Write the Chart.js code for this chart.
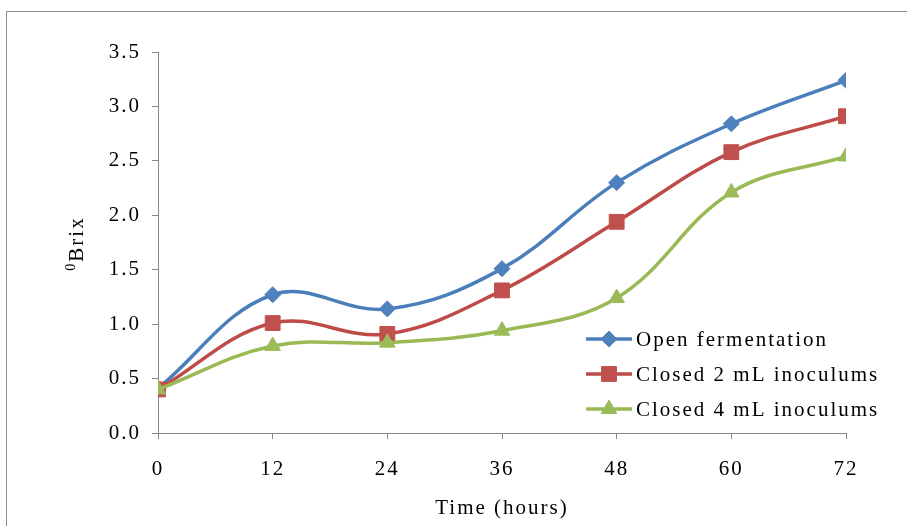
<!DOCTYPE html>
<html>
<head>
<meta charset="utf-8">
<script src="https://cdn.jsdelivr.net/npm/chart.js@4/dist/chart.umd.min.js"></script>
<style>
  html, body { margin: 0; padding: 0; background: #fff; }
  #wrap { width: 907px; height: 526px; position: relative; }
</style>
</head>
<body>
<div id="wrap"><canvas id="c" width="907" height="526"></canvas></div>
<script>
// Sampling times (hours) and soluble solids (°Brix) for each fermentation set-up
const hours = [0, 12, 24, 36, 48, 60, 72];
const openFermentation = [0.41, 1.27, 1.14, 1.51, 2.30, 2.84, 3.24];
const closed2mL = [0.40, 1.01, 0.91, 1.31, 1.94, 2.58, 2.91];
const closed4mL = [0.40, 0.80, 0.83, 0.94, 1.24, 2.21, 2.54];
const seriesNames = ['Open fermentation', 'Closed 2 mL inoculums', 'Closed 4 mL inoculums'];
const xTitle = 'Time (hours)';
const yTitleSup = '0';
const yTitleMain = 'Brix';

const FONT = "'Liberation Serif', 'Times New Roman', serif";
const FONT_SIZE = 21;
const AXIS_GREY = '#868686';

function toPoints(values) {
  return hours.map((h, i) => ({ x: h, y: values[i] }));
}

// white background, outer frame and wider glyph spacing
const framePlugin = {
  id: 'frame',
  beforeUpdate(chart) { chart.ctx.letterSpacing = '2px'; },
  beforeDraw(chart) {
    const ctx = chart.ctx;
    ctx.letterSpacing = '2px';
    ctx.save();
    ctx.fillStyle = '#ffffff';
    ctx.fillRect(0, 0, chart.width, chart.height);
    ctx.strokeStyle = '#8c8c8c';
    ctx.lineWidth = 1;
    ctx.strokeRect(6.5, 11.5, chart.width + 20, chart.height + 20);
    ctx.restore();
  }
};

// rotated y-axis title with a superscript zero
const yTitlePlugin = {
  id: 'yTitle',
  afterDraw(chart) {
    const ctx = chart.ctx;
    const cy = (chart.chartArea.top + chart.chartArea.bottom) / 2 + 1;
    ctx.save();
    ctx.translate(83, cy);
    ctx.rotate(-Math.PI / 2);
    ctx.fillStyle = '#000';
    ctx.textBaseline = 'alphabetic';
    ctx.textAlign = 'left';
    ctx.font = '14px ' + FONT;
    const wSup = ctx.measureText(yTitleSup).width;
    ctx.font = FONT_SIZE + 'px ' + FONT;
    const wMain = ctx.measureText(yTitleMain).width;
    const start = -(wSup + wMain) / 2;
    ctx.font = '14px ' + FONT;
    ctx.fillText(yTitleSup, start, -8);
    ctx.font = FONT_SIZE + 'px ' + FONT;
    ctx.fillText(yTitleMain, start + wSup, 0);
    ctx.restore();
  }
};

// legend with line-and-marker samples inside the plot area
const legendPlugin = {
  id: 'lineLegend',
  afterDraw(chart) {
    const ctx = chart.ctx;
    const x0 = 586, x1 = 632, tx = 636, y0 = 339, dy = 35;
    chart.data.datasets.forEach((ds, i) => {
      const y = y0 + i * dy;
      ctx.save();
      ctx.strokeStyle = ds.borderColor;
      ctx.lineWidth = ds.borderWidth;
      ctx.beginPath();
      ctx.moveTo(x0, y);
      ctx.lineTo(x1, y);
      ctx.stroke();
      ctx.fillStyle = ds.pointBackgroundColor;
      ctx.strokeStyle = ds.pointBorderColor;
      ctx.lineWidth = 1;
      Chart.helpers.drawPoint(ctx, {
        pointStyle: ds.pointStyle,
        radius: ds.pointRadius,
        borderWidth: 1,
        rotation: 0
      }, (x0 + x1) / 2, y);
      ctx.fillStyle = '#000';
      ctx.font = FONT_SIZE + 'px ' + FONT;
      ctx.textBaseline = 'middle';
      ctx.textAlign = 'left';
      ctx.fillText(ds.label, tx, y + 1);
      ctx.restore();
    });
  }
};

function series(label, values, line, fill, style, radius, order) {
  return {
    label: label,
    data: toPoints(values),
    borderColor: line,
    backgroundColor: fill,
    borderWidth: 3.5,
    pointStyle: style,
    pointRadius: radius,
    pointHoverRadius: radius,
    pointBackgroundColor: fill,
    pointBorderColor: fill,
    pointBorderWidth: 1,
    tension: 0.38,
    fill: false,
    order: order
  };
}

new Chart(document.getElementById('c'), {
  type: 'line',
  data: {
    datasets: [
      series(seriesNames[0], openFermentation, '#4A7EBB', '#4F81BD', 'rectRot', 8, 3),
      series(seriesNames[1], closed2mL, '#BE4B48', '#C0504D', 'rect', 10.5, 2),
      series(seriesNames[2], closed4mL, '#98B954', '#9BBB59', 'triangle', 9, 1)
    ]
  },
  options: {
    responsive: false,
    animation: false,
    events: [],
    layout: { padding: { left: 0, top: 52, right: 61, bottom: 0 } },
    plugins: {
      legend: { display: false },
      tooltip: { enabled: false },
      title: { display: false }
    },
    scales: {
      x: {
        type: 'linear',
        min: 0,
        max: 72,
        afterFit(scale) { scale.height = 93; },
        ticks: {
          stepSize: 12,
          color: '#000',
          padding: 18,
          font: { family: FONT, size: FONT_SIZE },
          maxRotation: 0
        },
        grid: {
          drawOnChartArea: false,
          drawTicks: true,
          tickLength: 6,
          color: AXIS_GREY,
          lineWidth: 1
        },
        border: { display: true, color: AXIS_GREY, width: 1 },
        title: {
          display: true,
          text: xTitle,
          color: '#000',
          font: { family: FONT, size: FONT_SIZE },
          padding: { top: 0, bottom: 5 }
        }
      },
      y: {
        min: 0,
        max: 3.5,
        afterFit(scale) { scale.width = 158; },
        ticks: {
          stepSize: 0.5,
          color: '#000',
          padding: 11,
          font: { family: FONT, size: FONT_SIZE },
          callback: (v) => Number(v).toFixed(1)
        },
        grid: {
          drawOnChartArea: false,
          drawTicks: true,
          tickLength: 6,
          color: AXIS_GREY,
          lineWidth: 1
        },
        border: { display: true, color: AXIS_GREY, width: 1 }
      }
    }
  },
  plugins: [framePlugin, yTitlePlugin, legendPlugin]
});
</script>
</body>
</html>
